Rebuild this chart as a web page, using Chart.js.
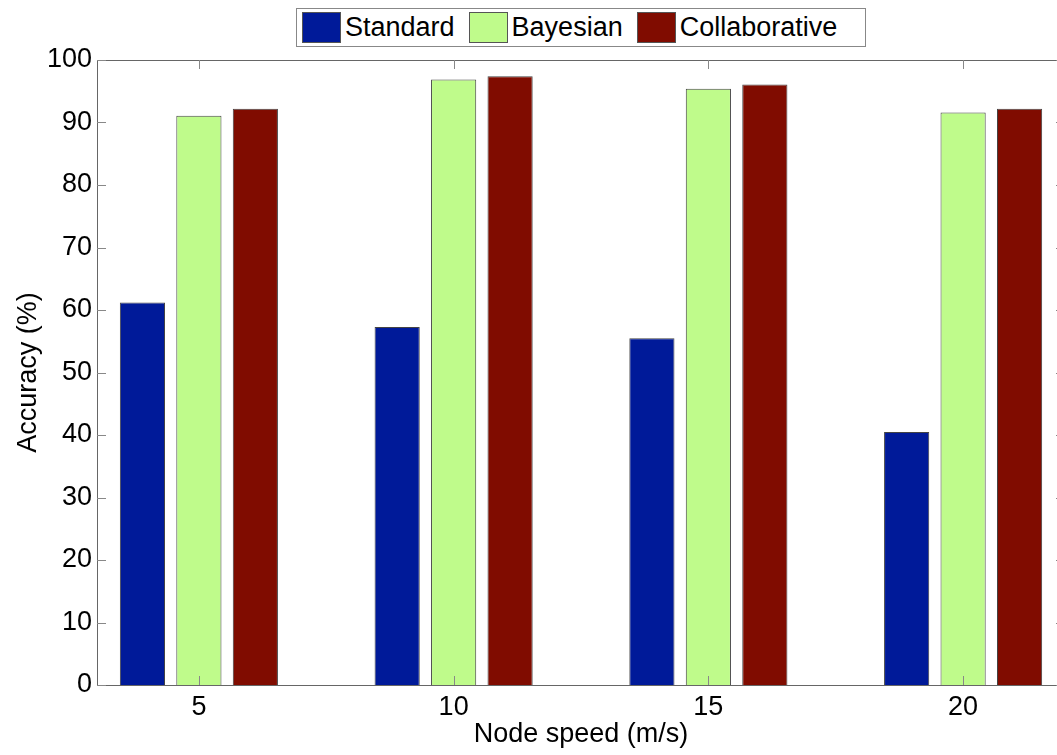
<!DOCTYPE html>
<html>
<head>
<meta charset="utf-8">
<script src="https://cdn.jsdelivr.net/npm/chart.js@4"></script>
<style>
  html, body { margin: 0; padding: 0; background: #fff; overflow: hidden; }
  #wrap { position: relative; width: 1080px; height: 755px; }
  #legend {
    position: absolute; left: 296px; top: 8px; width: 570px; height: 39px;
    border: 1px solid #888; background: #fff; box-sizing: border-box;
    display: flex; align-items: center; font-family: "Liberation Sans", Arial, sans-serif;
    font-size: 27px; color: #000; z-index: 2;
  }
  .item { display: flex; align-items: center; margin-left: 5px; margin-right: 9px; }
  .sw { width: 39px; height: 31px; border: 1px solid #555; box-sizing: border-box; margin-right: 4px; }
</style>
</head>
<body>
<div id="wrap">
  <div id="legend"></div>
  <canvas id="barChart"></canvas>
</div>
<script>
// node speed categories (m/s)
const speeds = [5, 10, 15, 20];
// accuracy (%) per method
const standardAcc = [61.2, 57.3, 55.5, 40.5];
const bayesianAcc = [91.1, 96.9, 95.4, 91.6];
const collabAcc = [92.2, 97.4, 96.1, 92.2];
const seriesNames = ["Standard", "Bayesian", "Collaborative"];
const seriesColors = ["#001a99", "#bffb8b", "#800c00"];
const yTicks = [0, 10, 20, 30, 40, 50, 60, 70, 80, 90, 100];

const font = { family: "'Liberation Sans', Arial, sans-serif", size: 27 };

// legend in html, real text
const legendEl = document.getElementById("legend");
seriesNames.forEach((name, i) => {
  const item = document.createElement("div");
  item.className = "item";
  item.innerHTML = '<div class="sw" style="background:' + seriesColors[i] + '"></div><span>' + name + "</span>";
  legendEl.appendChild(item);
});

// frame + inward tick marks like matlab
const frameTicks = {
  id: "frameTicks",
  afterDraw(chart) {
    const { ctx, chartArea: a, scales } = chart;
    ctx.save();
    ctx.strokeStyle = "#666";
    ctx.lineWidth = 1;
    ctx.strokeRect(a.left + 0.5, a.top + 0.5, a.right - a.left, a.bottom - a.top);
    ctx.strokeStyle = "#888";
    ctx.beginPath();
    yTicks.forEach((v) => {
      const y = Math.round(scales.y.getPixelForValue(v)) + 0.5;
      ctx.moveTo(a.left, y); ctx.lineTo(a.left + 9, y);
      ctx.moveTo(a.right, y); ctx.lineTo(a.right - 9, y);
    });
    speeds.forEach((v) => {
      const x = Math.round(scales.x.getPixelForValue(v)) + 0.5;
      ctx.moveTo(x, a.bottom); ctx.lineTo(x, a.bottom - 9);
      ctx.moveTo(x, a.top); ctx.lineTo(x, a.top + 9);
    });
    ctx.stroke();
    ctx.restore();
  },
};

const ctx = document.getElementById("barChart").getContext("2d");
new Chart(ctx, {
  type: "bar",
  data: {
    labels: speeds,
    datasets: [standardAcc, bayesianAcc, collabAcc].map((vals, i) => ({
      label: seriesNames[i],
      data: vals,
      backgroundColor: seriesColors[i],
      borderColor: "#444",
      borderWidth: 1,
      categoryPercentage: 0.665,
      barPercentage: 0.8,
    })),
  },
  options: {
    responsive: true,
    maintainAspectRatio: false,
    animation: false,
    layout: { padding: { top: 60, right: 15, left: 0, bottom: 0 } },
    plugins: { legend: { display: false }, tooltip: { enabled: false } },
    scales: {
      x: {
        type: "linear",
        offset: false,
        min: 3,
        max: 22,
        afterBuildTicks: (s) => { s.ticks = speeds.map((v) => ({ value: v })); },
        afterFit: (s) => { s.height = 70; },
        grid: { display: false, drawTicks: false, offset: false },
        border: { display: false },
        ticks: { font, color: "#000", padding: 6 },
        title: { display: true, text: "Node speed (m/s)", font, color: "#000", padding: { top: 0, bottom: 4 } },
      },
      y: {
        min: 0,
        max: 100,
        afterBuildTicks: (s) => { s.ticks = yTicks.map((v) => ({ value: v })); },
        afterFit: (s) => { s.width = 97; },
        grid: { display: false, drawTicks: false },
        border: { display: false },
        ticks: { font, color: "#000", padding: 5 },
        title: { display: true, text: "Accuracy (%)", font, color: "#000", padding: { top: 12, bottom: 0 } },
      },
    },
  },
  plugins: [frameTicks],
});
</script>
</body>
</html>
